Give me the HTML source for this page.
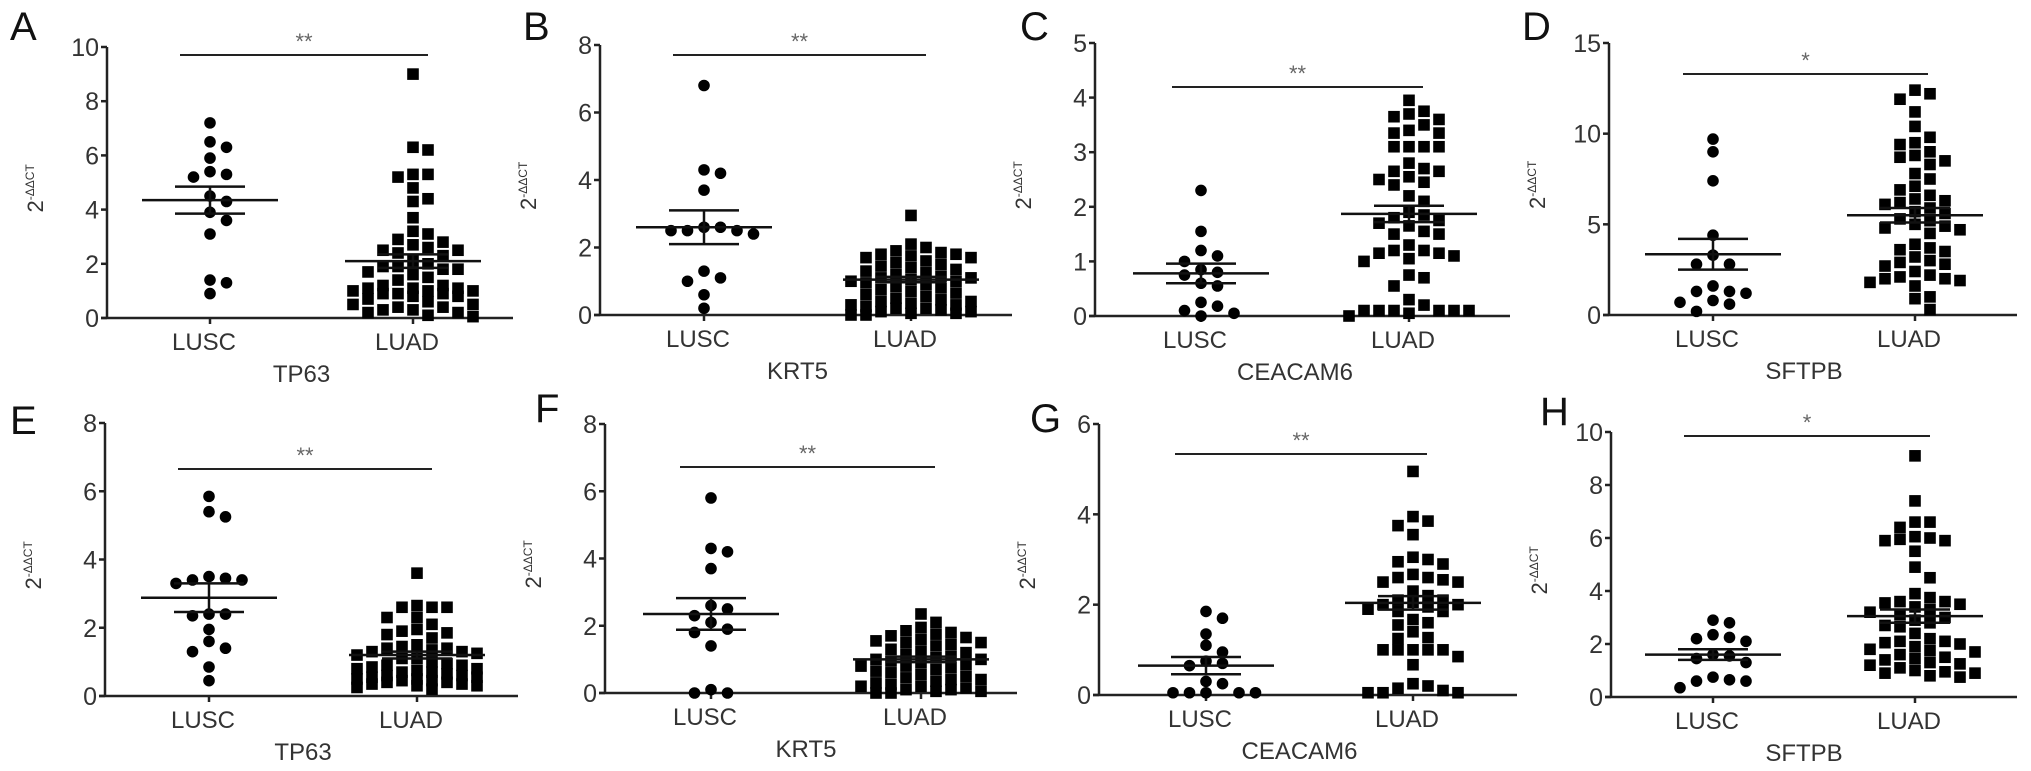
<!DOCTYPE html>
<html><head><meta charset="utf-8">
<style>
html,body{margin:0;padding:0;background:#fff;}
svg{display:block;font-family:"Liberation Sans",Arial,sans-serif;}
</style></head>
<body>
<svg id="chart" width="2031" height="771" viewBox="0 0 2031 771" xmlns="http://www.w3.org/2000/svg"></svg>
<script>
const categories = ["LUSC","LUAD"];
const genes = ["TP63","KRT5","CEACAM6","SFTPB","TP63","KRT5","CEACAM6","SFTPB"];
const panelLetters = ["A","B","C","D","E","F","G","H"];
const sigLabels = ["**","**","**","*","**","**","**","*"];
const yMax = [10,8,5,15,8,8,6,10];
const yStep = [2,2,1,5,2,2,2,2];

const lusc_A = [7.2,6.5,6.3,5.9,5.4,5.3,5.2,4.5,4.3,3.9,3.6,3.1,1.4,1.3,0.9];
const luad_A = [9.0,6.3,6.2,5.3,5.3,5.2,4.8,4.4,4.3,3.7,3.2,3.1,2.9,2.8,2.7,2.6,2.5,2.5,2.4,2.3,2.1,2.0,1.9,1.9,1.8,1.8,1.7,1.6,1.5,1.4,1.2,1.2,1.1,1.1,1.1,1.0,1.0,1.0,0.9,0.9,0.9,0.8,0.8,0.7,0.6,0.5,0.5,0.4,0.4,0.3,0.3,0.2,0.2,0.1,0.05];
const lusc_B = [6.8,4.3,4.2,3.7,2.6,2.5,2.6,2.5,2.5,2.4,1.3,1.1,1.0,0.6,0.2];
const luad_B = [2.95,2.1,2.0,1.9,1.85,1.8,1.8,1.75,1.7,1.7,1.6,1.55,1.5,1.45,1.4,1.35,1.3,1.25,1.2,1.15,1.1,1.1,1.05,1.0,1.0,0.95,0.9,0.85,0.8,0.75,0.7,0.65,0.6,0.55,0.5,0.45,0.4,0.4,0.35,0.3,0.3,0.25,0.2,0.2,0.15,0.1,0.1,0.05,0.05,0.0,0.0];
const lusc_C = [2.3,1.55,1.2,1.1,1.0,0.85,0.8,0.75,0.6,0.55,0.25,0.18,0.1,0.05,0.0];
const luad_C = [3.95,3.75,3.7,3.65,3.6,3.5,3.4,3.35,3.35,3.1,3.1,3.1,3.1,2.8,2.7,2.65,2.65,2.55,2.5,2.45,2.4,2.2,2.1,1.9,1.85,1.8,1.75,1.7,1.65,1.55,1.5,1.5,1.3,1.2,1.2,1.15,1.15,1.1,1.05,1.0,0.75,0.7,0.55,0.3,0.2,0.1,0.1,0.1,0.1,0.1,0.1,0.05,0.0];
const lusc_D = [9.7,9.0,7.4,4.4,3.3,2.8,2.8,1.6,1.3,1.2,1.3,0.8,0.7,0.6,0.2];
const luad_D = [12.4,12.2,11.9,11.2,10.4,9.8,9.5,9.4,9.0,8.8,8.7,8.5,8.3,7.8,7.5,7.1,6.9,6.6,6.4,6.3,6.2,6.1,5.9,5.7,5.6,5.3,5.2,5.0,4.9,4.8,4.7,4.5,3.9,3.7,3.6,3.5,3.2,3.0,2.9,2.8,2.7,2.4,2.2,2.1,2.0,2.0,1.9,1.8,1.6,1.0,0.9,0.3];
const lusc_E = [5.85,5.4,5.25,3.5,3.4,3.4,3.45,3.3,2.4,2.4,2.35,1.95,1.6,1.4,1.3,0.85,0.45];
const luad_E = [3.6,2.65,2.6,2.6,2.6,2.3,2.3,2.1,1.95,1.9,1.85,1.8,1.7,1.5,1.45,1.4,1.4,1.35,1.3,1.3,1.25,1.2,1.1,1.1,1.0,0.95,0.9,0.9,0.85,0.8,0.8,0.75,0.7,0.7,0.65,0.6,0.6,0.55,0.55,0.5,0.5,0.45,0.45,0.4,0.4,0.35,0.35,0.3,0.3,0.25,0.2];
const lusc_F = [5.8,4.3,4.2,3.7,2.6,2.5,2.3,2.1,1.9,1.8,1.4,0.1,0.0,0.0];
const luad_F = [2.35,2.1,1.95,1.85,1.8,1.75,1.7,1.65,1.6,1.55,1.5,1.5,1.45,1.4,1.3,1.25,1.2,1.15,1.1,1.05,1.0,1.0,0.95,0.9,0.85,0.8,0.8,0.75,0.7,0.65,0.6,0.55,0.5,0.45,0.4,0.4,0.35,0.3,0.25,0.2,0.2,0.15,0.1,0.1,0.05,0.05,0.0,0.0];
const lusc_G = [1.85,1.7,1.35,1.1,0.95,0.75,0.7,0.65,0.3,0.25,0.05,0.05,0.05,0.05,0.05];
const luad_G = [4.95,3.95,3.85,3.75,3.55,3.05,3.0,2.95,2.9,2.67,2.6,2.6,2.55,2.5,2.5,2.3,2.2,2.1,2.1,2.05,2.0,2.0,1.95,1.9,1.85,1.85,1.67,1.6,1.55,1.4,1.27,1.25,1.0,1.0,1.0,1.0,1.0,0.85,0.67,0.25,0.2,0.15,0.1,0.05,0.05,0.05];
const lusc_H = [2.9,2.8,2.35,2.25,2.2,2.1,1.6,1.55,1.45,1.3,0.75,0.65,0.6,0.6,0.35];
const luad_H = [9.1,7.4,6.6,6.6,6.4,6.05,6.0,5.95,5.9,5.9,5.5,4.9,4.5,3.9,3.75,3.6,3.6,3.55,3.5,3.4,3.3,3.2,3.1,3.0,2.9,2.8,2.7,2.65,2.4,2.2,2.1,2.1,2.05,2.0,1.9,1.8,1.75,1.7,1.6,1.5,1.45,1.4,1.3,1.25,1.2,1.1,1.0,0.95,0.9,0.9,0.8,0.75];

const luscSets = [lusc_A,lusc_B,lusc_C,lusc_D,lusc_E,lusc_F,lusc_G,lusc_H];
const luadSets = [luad_A,luad_B,luad_C,luad_D,luad_E,luad_F,luad_G,luad_H];
const luscMean = [4.35,2.6,0.78,3.35,2.88,2.35,0.65,1.6];
const luscSem  = [0.5,0.5,0.18,0.85,0.42,0.47,0.19,0.2];
const luadMean = [2.1,1.05,1.87,5.5,1.2,1.0,2.04,3.05];
const luadSem  = [0.25,0.08,0.15,0.4,0.1,0.08,0.15,0.25];

// layout (pixels)
const layout = [
 {ax:107,top:47,y0:318,c1:210,c2:413,right:513,sigY:55,s1:180,s2:428,lx:10,ly:40},
 {ax:600,top:45,y0:315,c1:704,c2:911,right:1012,sigY:55,s1:673,s2:926,lx:523,ly:40},
 {ax:1095,top:43,y0:316,c1:1201,c2:1409,right:1510,sigY:87,s1:1172,s2:1423,lx:1020,ly:40},
 {ax:1609,top:43,y0:315,c1:1713,c2:1915,right:2017,sigY:74,s1:1683,s2:1928,lx:1522,ly:40},
 {ax:105,top:423,y0:696,c1:209,c2:417,right:518,sigY:469,s1:178,s2:432,lx:10,ly:434},
 {ax:605,top:424,y0:693,c1:711,c2:921,right:1017,sigY:467,s1:680,s2:935,lx:535,ly:422},
 {ax:1099,top:424,y0:695,c1:1206,c2:1413,right:1517,sigY:454,s1:1175,s2:1427,lx:1030,ly:432},
 {ax:1611,top:432,y0:697,c1:1713,c2:1915,right:2017,sigY:436,s1:1684,s2:1930,lx:1540,ly:425}
];

const NS="http://www.w3.org/2000/svg";
const svg=document.getElementById('chart');
function mk(tag,attrs,parent){const e=document.createElementNS(NS,tag);for(const k in attrs)e.setAttribute(k,attrs[k]);(parent||svg).appendChild(e);return e;}

function swarm(vals,yFn,cx,d,step,maxK){
  const sorted=vals.slice().sort((a,b)=>b-a);
  const placed=[];
  sorted.forEach(v=>{
    const y=yFn(v);
    let best=null,bestD=-1;
    for(let k=0;k<=2*maxK;k++){
      const off=(k===0)?0:((k%2===1)?1:-1)*Math.ceil(k/2)*step;
      const x=cx+off;
      const md=placed.length?Math.min(...placed.map(p=>Math.hypot(p.x-x,p.y-y))):1e9;
      if(md>=d){best=x;break;}
      if(md>bestD+0.5){bestD=md;best=x;}
    }
    placed.push({x:best,y});
  });
  return placed;
}

layout.forEach((L,i)=>{
  const g=mk('g',{});
  
  
  const yS=v=>L.y0-(v/yMax[i])*(L.y0-L.top);

  const lt=mk('text',{x:L.lx,y:L.ly,'font-size':40,fill:'#111'},g);lt.textContent=panelLetters[i];
  
  

  const ya=mk('line',{x1:L.ax,y1:L.top,x2:L.ax,y2:L.y0,stroke:'#222','stroke-width':2.5},g);
  
  
  const xa=mk('line',{x1:L.ax-6,y1:L.y0,x2:L.right,y2:L.y0,stroke:'#222','stroke-width':2.5},g);
  
  

  for(let v=0;v<=yMax[i]+1e-9;v+=yStep[i]){
    const y=yS(v);
    mk('line',{x1:L.ax-6,y1:y,x2:L.ax,y2:y,stroke:'#222','stroke-width':2.5},g);
    const t=mk('text',{x:L.ax-8,y:y+9,'font-size':25,'text-anchor':'end',fill:'#333'},g);
    t.textContent=v;
    
    
  }

  const yt=mk('text',{transform:`translate(${L.ax-64},${(L.top+L.y0)/2+30}) rotate(-90)`,'font-size':22,fill:'#333'},g);
  
  
  const t1=mk('tspan',{},yt);t1.textContent='2';
  const t2=mk('tspan',{'font-size':12,dy:-9},yt);t2.textContent='-ΔΔCT';

  [L.c1,L.c2].forEach((cx,j)=>{
    mk('line',{x1:cx,y1:L.y0,x2:cx,y2:L.y0+6,stroke:'#222','stroke-width':2.5},g);
    const t=mk('text',{x:cx-6,y:L.y0+32,'font-size':24,'text-anchor':'middle',fill:'#333'},g);
    t.textContent=categories[j];
    
    
  });
  const gt=mk('text',{x:(L.c1+L.c2)/2-10,y:L.y0+64,'font-size':24,'text-anchor':'middle',fill:'#333'},g);
  gt.textContent=genes[i];
  
  

  const sl=mk('line',{x1:L.s1,y1:L.sigY,x2:L.s2,y2:L.sigY,stroke:'#222','stroke-width':2},g);
  
  
  const st=mk('text',{x:(L.s1+L.s2)/2,y:L.sigY-6,'font-size':22,'text-anchor':'middle',fill:'#666'},g);
  st.textContent=sigLabels[i];
  
  

  swarm(luscSets[i],yS,L.c1,11,16.5,3).forEach(p=>{
    const c=mk('circle',{cx:p.x,cy:p.y,r:5.8,fill:'#000'},g);
    
    
  });
  swarm(luadSets[i],yS,L.c2,11,15,4).forEach(p=>{
    const r=mk('rect',{x:p.x-5.8,y:p.y-5.8,width:11.6,height:11.6,fill:'#000'},g);
    
    
  });

  [[L.c1,luscMean[i],luscSem[i]],[L.c2,luadMean[i],luadSem[i]]].forEach(([cx,m,s])=>{
    const ml=mk('line',{x1:cx-68,y1:yS(m),x2:cx+68,y2:yS(m),stroke:'#111','stroke-width':2.5},g);
    
    
    mk('line',{x1:cx-35,y1:yS(m+s),x2:cx+35,y2:yS(m+s),stroke:'#111','stroke-width':2.5},g);
    mk('line',{x1:cx-35,y1:yS(m-s),x2:cx+35,y2:yS(m-s),stroke:'#111','stroke-width':2.5},g);
    mk('line',{x1:cx,y1:yS(m+s),x2:cx,y2:yS(m-s),stroke:'#111','stroke-width':2.5},g);
  });
});
</script>
</body></html>
